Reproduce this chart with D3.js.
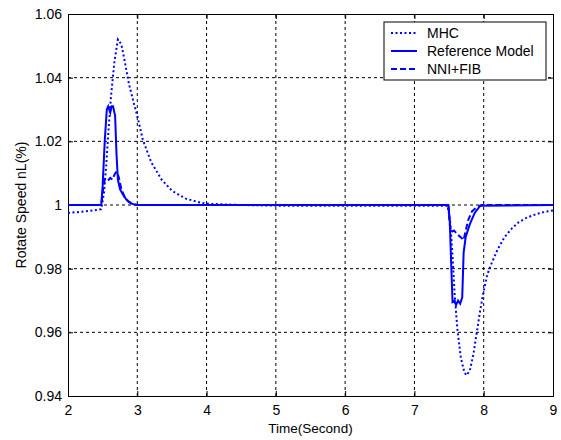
<!DOCTYPE html>
<html>
<head>
<meta charset="utf-8">
<script src="https://cdn.jsdelivr.net/npm/d3@7"></script>
<style>
  body { margin: 0; background: #fff; }
  text { font-family: "Liberation Sans", Arial, sans-serif; }
</style>
</head>
<body>
<script>
//chart data
const xTicks = [2, 3, 4, 5, 6, 7, 8, 9];
const yTicks = [0.94, 0.96, 0.98, 1, 1.02, 1.04, 1.06];
const yTickLabels = ["0.94", "0.96", "0.98", "1", "1.02", "1.04", "1.06"];
const seriesNames = ["MHC", "Reference Model", "NNI+FIB"];

// MHC (dotted)
const mhcT = [2, 2.2, 2.4, 2.48, 2.52, 2.55, 2.58, 2.62, 2.67, 2.72, 2.77, 2.82, 2.88, 2.95, 3.0, 3.08, 3.2, 3.35, 3.5, 3.7, 3.9, 4.0, 4.5, 5, 6, 7, 7.48,
  7.52, 7.55, 7.58, 7.62, 7.67, 7.72, 7.75, 7.8, 7.85, 7.9, 7.95, 8.0, 8.05, 8.1, 8.2, 8.3, 8.4, 8.5, 8.6, 8.7, 8.8, 8.9, 9];
const mhcV = [0.9975, 0.9979, 0.9984, 0.9987, 1.004, 1.012, 1.022, 1.034, 1.045, 1.052, 1.0505, 1.045, 1.038, 1.032, 1.028, 1.0205, 1.0135, 1.008, 1.0045, 1.002, 1.0008, 1.0004, 1.0, 0.9998, 0.9998, 0.9998, 0.9998,
  0.994, 0.984, 0.972, 0.961, 0.952, 0.9475, 0.9465, 0.948, 0.953, 0.96, 0.967, 0.973, 0.978, 0.981, 0.986, 0.9899, 0.9925, 0.9945, 0.9958, 0.9967, 0.9974, 0.9979, 0.9983];

// Reference Model (solid)
const refT = [2, 2.48, 2.5, 2.53, 2.56, 2.58, 2.61, 2.63, 2.65, 2.68, 2.7, 2.72, 2.75, 2.8, 2.85, 2.9, 2.95, 3.0, 7.49, 7.51, 7.53, 7.55, 7.58, 7.6, 7.63, 7.66, 7.69, 7.71, 7.74, 7.8, 7.87, 7.95, 9];
const refV = [1.0, 1.0, 1.006, 1.02, 1.030, 1.031, 1.029, 1.031, 1.031, 1.028, 1.016, 1.008, 1.005, 1.003, 1.0015, 1.0006, 1.0002, 1.0, 1.0, 0.995, 0.982, 0.9695, 0.970, 0.9685, 0.970, 0.969, 0.971, 0.985, 0.990, 0.994, 0.9975, 0.9998, 1.0];

// NNI+FIB (dashed)
const nniT = [2, 2.48, 2.5, 2.53, 2.57, 2.61, 2.64, 2.67, 2.7, 2.73, 2.77, 2.82, 2.88, 2.95, 3.0, 7.49, 7.51, 7.53, 7.57, 7.61, 7.66, 7.71, 7.74, 7.78, 7.83, 7.9, 7.97, 9];
const nniV = [1.0, 1.0, 1.004, 1.008, 1.0075, 1.0085, 1.008, 1.0095, 1.0105, 1.009, 1.005, 1.0025, 1.001, 1.0003, 1.0, 1.0, 0.994, 0.9915, 0.992, 0.991, 0.990, 0.989, 0.992, 0.9955, 0.998, 0.9993, 1.0, 1.0];

const width = 561;
const height = 440;
const margin = {left: 68, right: 8, top: 14, bottom: 44};
const fontSize = 14;

let svg = d3.select("body").append("svg")
  .attr("width", width)
  .attr("height", height);

let x = d3.scaleLinear().domain([2, 9]).range([margin.left, width - margin.right]);
let y = d3.scaleLinear().domain([0.94, 1.06]).range([height - margin.bottom, margin.top]);

//grid lines
let grid = svg.append("g");
grid.selectAll("line.vx")
  .data(xTicks.slice(1, -1))
  .enter().append("line")
    .attr("x1", d => x(d)).attr("x2", d => x(d))
    .attr("y1", y(0.94)).attr("y2", y(1.06))
    .attr("stroke", "#000").attr("stroke-width", 1)
    .attr("stroke-dasharray", "3,3");
grid.selectAll("line.hy")
  .data(yTicks.slice(1, -1))
  .enter().append("line")
    .attr("x1", x(2)).attr("x2", x(9))
    .attr("y1", d => y(d)).attr("y2", d => y(d))
    .attr("stroke", "#000").attr("stroke-width", 1)
    .attr("stroke-dasharray", "3,3");

//axes (matlab style: ticks inside on all four sides)
svg.append("g")
  .attr("transform", "translate(0," + y(0.94) + ")")
  .call(d3.axisBottom(x).tickValues(xTicks).tickSize(-5).tickPadding(9).tickFormat(d3.format("d")));
svg.append("g")
  .attr("transform", "translate(0," + y(1.06) + ")")
  .call(d3.axisTop(x).tickValues(xTicks).tickSize(-5).tickFormat(""));
svg.append("g")
  .attr("transform", "translate(" + x(2) + ",0)")
  .call(d3.axisLeft(y).tickValues(yTicks).tickSize(-5).tickPadding(6).tickFormat((d, i) => yTickLabels[i]));
svg.append("g")
  .attr("transform", "translate(" + x(9) + ",0)")
  .call(d3.axisRight(y).tickValues(yTicks).tickSize(-5).tickFormat(""));

svg.selectAll(".domain").attr("stroke", "#000");
svg.selectAll(".tick line").attr("stroke", "#000");
svg.selectAll(".tick text").attr("font-size", fontSize).attr("fill", "#000")
  .style("font-family", "'Liberation Sans', Arial, sans-serif");

//series lines
let line = d3.line().x(d => x(d[0])).y(d => y(d[1]));
let plot = svg.append("g");
const styles = [
  {t: mhcT, v: mhcV, dash: "2,2.5"},
  {t: refT, v: refV, dash: null},
  {t: nniT, v: nniV, dash: "6,3"}
];
styles.forEach(function(s){
  plot.append("path")
    .datum(s.t.map((t, i) => [t, s.v[i]]))
    .attr("d", line)
    .attr("fill", "none")
    .attr("stroke", "#0000ff")
    .attr("stroke-width", 2)
    .attr("stroke-dasharray", s.dash);
});

//axis labels
svg.append("text")
  .attr("x", (x(2) + x(9)) / 2).attr("y", 433)
  .attr("text-anchor", "middle").attr("font-size", 13.5)
  .text("Time(Second)");
svg.append("text")
  .attr("transform", "translate(26," + (y(0.94) + y(1.06)) / 2 + ") rotate(-90)")
  .attr("text-anchor", "middle").attr("font-size", fontSize)
  .text("Rotate Speed nL(%)");

//legend
let legend = svg.append("g").attr("transform", "translate(384,22)");
legend.append("rect")
  .attr("width", 162).attr("height", 58)
  .attr("fill", "#fff").attr("stroke", "#000").attr("stroke-width", 1);
seriesNames.forEach(function(name, i){
  let yy = 11 + i * 18;
  legend.append("line")
    .attr("x1", 7).attr("x2", 33).attr("y1", yy).attr("y2", yy)
    .attr("stroke", "#0000ff").attr("stroke-width", 2)
    .attr("stroke-dasharray", styles[i].dash);
  legend.append("text")
    .attr("x", 43).attr("y", yy + 5)
    .attr("font-size", fontSize)
    .text(name);
});
</script>
</body>
</html>
